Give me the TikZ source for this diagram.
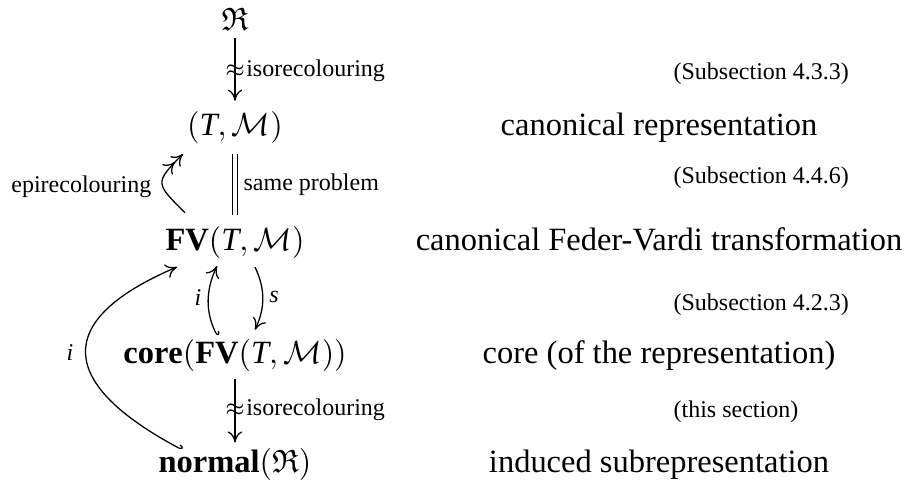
\documentclass[tikz,border=0pt]{standalone}
\usepackage{amssymb}
\usepackage{fontspec}
\setmainfont{Liberation Serif}
\usetikzlibrary{arrows.meta,calc}
\begin{document}
\begin{tikzpicture}[x=0.3125pt, y=-0.3125pt,
  big/.style={font=\fontsize{10.15}{12}\selectfont, inner sep=0pt, anchor=mid},
  small/.style={font=\fontsize{7.5}{9}\selectfont, inner sep=0pt},
  arr/.style={line width=0.4pt, -{To[length=3.5pt,width=4.5pt]}},
  hookarr/.style={line width=0.4pt, {Hooks[left,length=1.2pt,width=2.4pt]}-{To[length=3.5pt,width=4.5pt]}},
  epiarr/.style={line width=0.4pt, -{To[length=3.5pt,width=4.5pt]To[length=3.5pt,width=4.5pt]}},
  eqline/.style={line width=0.4pt, double, double distance=1.2pt}
]
\useasboundingbox (0,0) rectangle (908,487);

% left column
\node[big] (R) at (235,23) {$\mathfrak{R}$};
\node[big] (TM) at (235,128) {$(\mathit{T},\mathcal{M})$};
\node[big] (FV) at (235,243) {$\mathbf{FV}(\mathit{T},\mathcal{M})$};
\node[big] (core) at (235,356) {$\mathbf{core}(\mathbf{FV}(\mathit{T},\mathcal{M}))$};
\node[big] (normal) at (235,465) {$\mathbf{normal}(\mathfrak{R})$};

% right column
\node[big] (l1) at (659,128) {canonical representation};
\node[big] (l2) at (659,243) {canonical Feder-Vardi transformation};
\node[big] (l3) at (659,356) {core (of the representation)};
\node[big] (l4) at (659,465) {induced subrepresentation};
\node[small, anchor=mid west] (p1) at (673,72) {(Subsection 4.3.3)};
\node[small, anchor=mid west] (p2) at (673,176) {(Subsection 4.4.6)};
\node[small, anchor=mid west] (p3) at (673,303) {(Subsection 4.2.3)};
\node[small, anchor=mid west] (p4) at (673,410) {(this section)};

% arrows
\draw[arr, shorten <=2.2pt, shorten >=3.1pt] (R) -- (TM)
  node[midway, small] (a1) {$\approx$};
\node[small, anchor=west] (t1) at (a1.east) {isorecolouring};

\draw[eqline, shorten <=3.1pt, shorten >=3.4pt] (TM) -- (FV)
  node[midway, small, anchor=west, xshift=2.5pt] (t2) {same problem};

\draw[epiarr] ($(FV.north)+(-50,-13)$) to[out=135, in=225, looseness=1.8] ($(TM.south)+(-52,10)$);
\node[small, anchor=mid east] (t3) at (152,185) {epirecolouring};

\draw[hookarr] ($(core.north)+(-18,-3)$) to[bend left=25] ($(FV.south)+(-18,7)$);
\node[small] (t4) at (198,298) {$\mathit{i}$};
\draw[arr] ($(FV.south)+(20,8)$) to[bend left=25] ($(core.north)+(20,-9)$);
\node[small] (t5) at (274,297) {$\mathit{s}$};

\draw[hookarr] ($(normal.north)+(-53,2)$) .. controls +(-122,-65) and +(-127,54) .. ($(FV.south)+(-58,8)$);
\node[small] (t6) at (70,353) {$\mathit{i}$};

\draw[arr, shorten <=2.2pt, shorten >=1.6pt] (core) -- (normal)
  node[midway, small] (a2) {$\approx$};
\node[small, anchor=west] (t7) at (a2.east) {isorecolouring};
\end{tikzpicture}
\end{document}
